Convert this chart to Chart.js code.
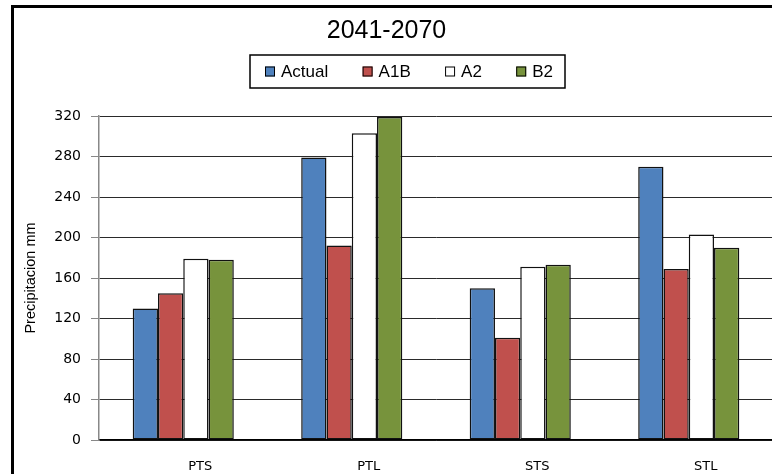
<!DOCTYPE html>
<html>
<head>
<meta charset="utf-8">
<script src="https://cdn.jsdelivr.net/npm/chart.js@4.4.1/dist/chart.umd.min.js"></script>
<style>
  html, body { margin: 0; padding: 0; background: #fff; overflow: hidden; }
  #frame { position: absolute; left: 11px; top: 5px; width: 800px; height: 500px; border: 3px solid #000; }
  #wrap { position: absolute; left: 0; top: 0; width: 780px; height: 474px; }
</style>
</head>
<body>
<div id="frame"></div>
<div id="wrap"><canvas id="chart"></canvas></div>
<script>
// Datos del gráfico
const categorias = ["PTS", "PTL", "STS", "STL"];
const actual = [130, 279, 150, 270];
const a1b = [145, 192, 101, 169];
const a2 = [179, 303, 171, 203];
const b2 = [178, 319, 173, 190];
const yTicks = [0, 40, 80, 120, 160, 200, 240, 280, 320];

const series = [
  { label: "Actual", data: actual, color: "#4F81BD" },
  { label: "A1B", data: a1b, color: "#C0504D" },
  { label: "A2", data: a2, color: "#FFFFFF" },
  { label: "B2", data: b2, color: "#77933C" },
];

// Leyenda con recuadro, dibujada a mano
const boxedLegend = {
  id: "boxedLegend",
  afterDraw(chart) {
    const ctx = chart.ctx;
    const left = 250, right = 565, top = 55, bottom = 88;
    const midY = (top + bottom) / 2;
    ctx.save();
    ctx.strokeStyle = "#000";
    ctx.lineWidth = 1.5;
    ctx.strokeRect(left, top, right - left, bottom - top);

    ctx.font = "17px Arial, 'Liberation Sans', sans-serif";
    ctx.textBaseline = "middle";
    const sq = 10, gap = 6;
    const items = chart.data.datasets.map(ds => ({
      label: ds.label,
      color: ds.backgroundColor,
      w: sq + gap + ctx.measureText(ds.label).width,
    }));
    const span = 553 - 265;
    const used = items.reduce((s, it) => s + it.w, 0);
    const spacing = (span - used) / (items.length - 1);
    let x = 265;
    items.forEach(it => {
      ctx.fillStyle = it.color;
      ctx.fillRect(x, midY - 5, sq, sq);
      ctx.lineWidth = 1;
      ctx.strokeStyle = "#000";
      ctx.strokeRect(x + 0.5, midY - 4.5, sq - 1, sq - 1);
      ctx.fillStyle = "#000";
      ctx.fillText(it.label, x + sq + gap, midY + 1);
      x += it.w + spacing;
    });
    ctx.restore();
  },
};

const ctx = document.getElementById("chart").getContext("2d");
new Chart(ctx, {
  type: "bar",
  data: {
    labels: categorias,
    datasets: series.map(s => ({
      label: s.label,
      data: s.data,
      backgroundColor: s.color,
      borderColor: "#111",
      borderWidth: 1.5,
      borderSkipped: false,
      barPercentage: 1,
      categoryPercentage: 0.6,
    })),
  },
  options: {
    responsive: true,
    maintainAspectRatio: false,
    animation: false,
    layout: { padding: { left: 0, right: 7, top: 0, bottom: 0 } },
    scales: {
      x: {
        grid: { display: false, drawTicks: false },
        border: { color: "#000", width: 1.5 },
        ticks: {
          color: "#000",
          padding: 19,
          labelOffset: 17,
          font: { family: "'DejaVu Sans', sans-serif", size: 13 },
        },
        afterFit(scale) { scale.height = 34; },
      },
      y: {
        min: 0,
        max: 320,
        afterBuildTicks(scale) { scale.ticks = yTicks.map(v => ({ value: v })); },
        grid: { color: "#2a2a2a", lineWidth: 1, tickColor: "#888", tickLength: 8 },
        border: { color: "#888", width: 1.5 },
        ticks: {
          color: "#000",
          padding: 10,
          font: { family: "'DejaVu Sans', sans-serif", size: 14 },
        },
        title: {
          display: true,
          text: "Precipitacion mm",
          color: "#000",
          padding: { top: 22, bottom: 0 },
          font: { family: "Arial, 'Liberation Sans', sans-serif", size: 14.5 },
        },
        afterFit(scale) { scale.width = 99; },
      },
    },
    plugins: {
      legend: { display: false },
      tooltip: { enabled: false },
      title: {
        display: true,
        text: "2041-2070",
        color: "#000",
        padding: { top: 16, bottom: 70 },
        font: { family: "Arial, 'Liberation Sans', sans-serif", size: 25, weight: "normal" },
      },
    },
  },
  plugins: [boxedLegend],
});
</script>
</body>
</html>
